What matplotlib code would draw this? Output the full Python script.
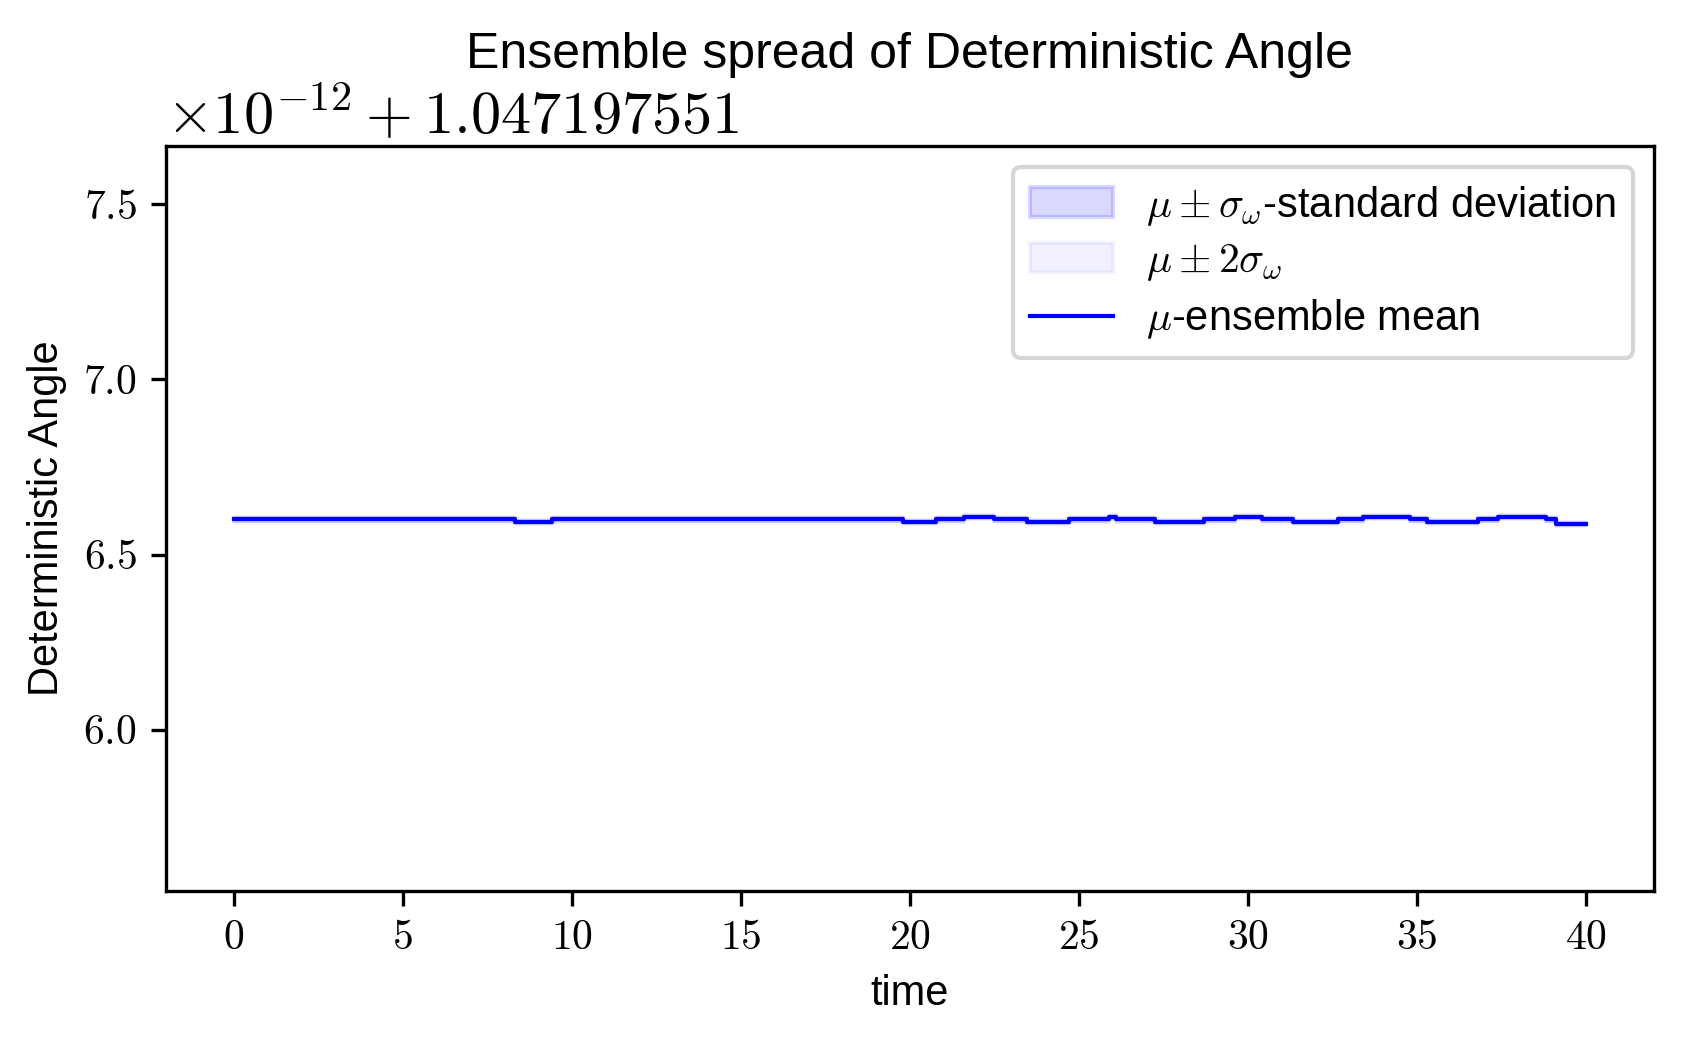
import numpy as np
import matplotlib
matplotlib.use("Agg")
import matplotlib.pyplot as plt
from matplotlib.ticker import ScalarFormatter

plt.rcParams['font.family'] = ['Liberation Sans', 'DejaVu Sans']
plt.rcParams['mathtext.fontset'] = 'cm'
plt.rcParams['axes.formatter.use_mathtext'] = True

ANGLE_BASE = 1.04719755119
t_break = [0.0, 8.33, 9.42, 19.8, 20.76, 21.6, 22.5, 23.46, 24.7, 25.9, 26.1, 27.24, 28.69,
           29.6, 30.4, 31.34, 32.66, 33.4, 34.8, 35.3, 36.8, 37.4, 38.8, 39.1, 40.0]
mean_e12 = [6.600, 6.592, 6.600, 6.592, 6.600, 6.606, 6.600, 6.592, 6.600, 6.606, 6.600, 6.592, 6.600,
            6.606, 6.600, 6.592, 6.600, 6.606, 6.600, 6.592, 6.600, 6.606, 6.600, 6.588, 6.588]
std_e12 = [0.003, 0.003, 0.003, 0.003, 0.003, 0.003, 0.003, 0.003, 0.003, 0.003, 0.003, 0.003, 0.003,
           0.003, 0.003, 0.003, 0.003, 0.003, 0.003, 0.003, 0.003, 0.003, 0.003, 0.003, 0.003]
ylim_e12 = (5.54, 7.666)


class OffsetFormatter(ScalarFormatter):
    # put the "+" between groups so it gets binary-operator spacing like in TeX
    def get_offset(self):
        s = super().get_offset()
        return s.replace(r'\mathdefault{+', r'+\mathdefault{')


t = np.array(t_break)
mu = ANGLE_BASE + np.array(mean_e12) * 1e-12
sig = np.array(std_e12) * 1e-12

fig, ax = plt.subplots(figsize=(1685 / 300, 1044 / 300), dpi=300)
fig.subplots_adjust(left=0.0985, right=0.9815, bottom=0.147, top=0.860)

ax.fill_between(t, mu - sig, mu + sig, step='post', color='blue', alpha=0.15,
                label=r'$\mu \pm \sigma_\omega$-standard deviation')
ax.fill_between(t, mu - 2 * sig, mu + 2 * sig, step='post', color='blue', alpha=0.05,
                label=r'$\mu \pm 2\sigma_\omega$')
ax.step(t, mu, where='post', color='blue', lw=1.0, label=r'$\mu$-ensemble mean')

ax.yaxis.set_major_formatter(OffsetFormatter(useMathText=True))
ax.set_ylim(ANGLE_BASE + ylim_e12[0] * 1e-12, ANGLE_BASE + ylim_e12[1] * 1e-12)
ax.set_xlabel('time', fontsize=10)
ax.set_ylabel('Deterministic Angle', fontsize=10)
ax.set_title('Ensemble spread of Deterministic Angle', fontsize=12, pad=4)
ax.tick_params(labelsize=10, labelfontfamily='cmr10')
ax.yaxis.get_offset_text().set_fontfamily('cmr10')
ax.yaxis.get_offset_text().set_fontsize(14.5)
ax.legend(loc='upper right', fontsize=10, labelspacing=0.33)

fig.savefig('out.png', dpi=300)
